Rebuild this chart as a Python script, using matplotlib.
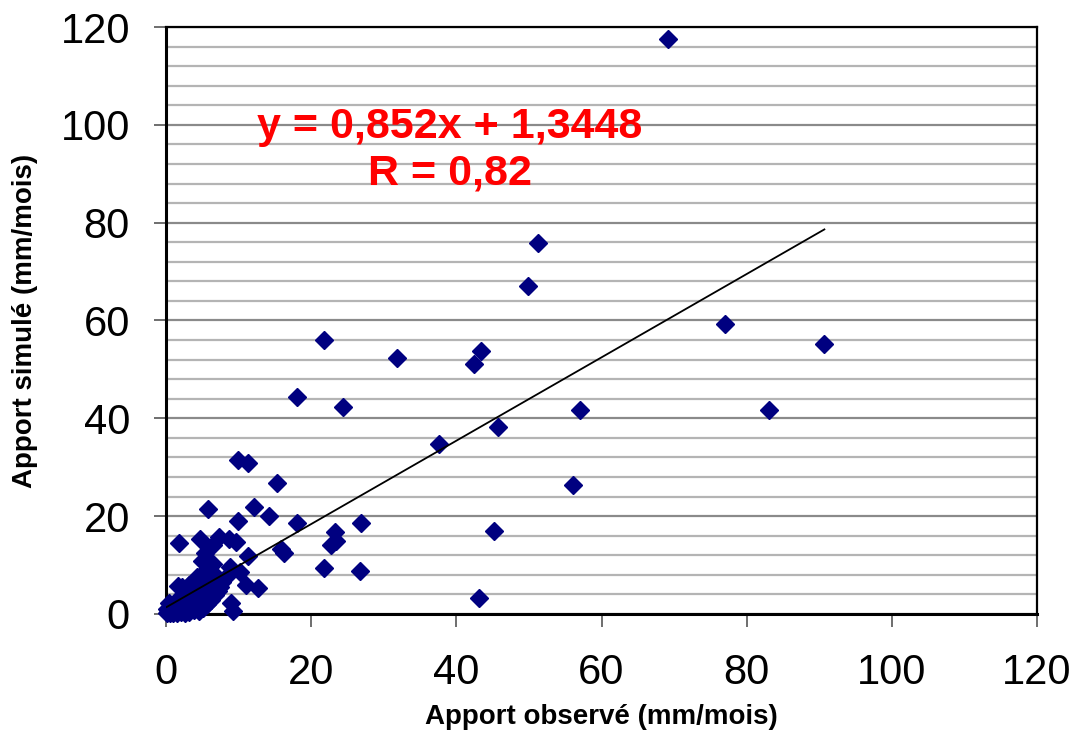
import numpy as np
import matplotlib.pyplot as plt
from matplotlib.ticker import MultipleLocator

obs = [69.2, 51.3, 49.9, 77.0, 90.7, 21.8, 31.8, 43.4, 42.4, 18.0,
       24.4, 57.0, 83.1, 37.6, 45.7, 9.9, 11.3, 15.3, 56.1, 5.8,
       12.1, 14.2, 18.0, 26.9, 9.9, 23.3, 45.2, 23.4, 22.7, 1.8,
       4.7, 8.7, 9.6, 15.8, 16.3, 7.3, 6.5, 5.4, 11.3, 21.8,
       26.7, 12.7, 11.0, 9.0, 9.2, 43.1, 1.7, 8.8, 10.2, 8.3,
       0.1, 0.2, 0.3, 0.5, 0.6, 0.8, 1.0, 1.0, 1.2, 1.4,
       1.5, 1.7, 1.8, 2.0, 2.1, 2.3, 2.4, 2.6, 2.7, 2.9,
       3.0, 3.2, 3.3, 3.5, 3.6, 3.8, 3.9, 4.1, 4.2, 4.4,
       4.5, 4.6, 4.8, 4.9, 5.0, 5.1, 5.2, 5.3, 5.5, 5.6,
       5.7, 5.8, 5.9, 6.0, 6.1, 6.2, 6.3, 6.4, 6.6, 6.7,
       6.9, 7.1, 7.3, 7.5, 7.7, 2.2, 3.0, 4.0, 1.6, 0.4,
       3.6, 4.3, 5.4, 6.5, 5.0, 3.2]
sim = [117.5, 75.8, 67.0, 59.3, 55.2, 56.0, 52.3, 53.8, 51.1, 44.4,
       42.3, 41.7, 41.7, 34.8, 38.2, 31.5, 30.9, 26.8, 26.4, 21.5,
       21.9, 20.0, 18.6, 18.6, 19.0, 16.8, 17.0, 14.9, 14.1, 14.5,
       15.3, 15.3, 14.7, 13.3, 12.5, 15.7, 14.1, 12.5, 11.9, 9.4,
       8.8, 5.3, 5.9, 2.2, 0.6, 3.3, 5.7, 9.6, 8.6, 7.6,
       0.2, 1.0, 0.5, 1.5, 0.3, 0.8, 0.2, 1.8, 0.6, 1.2,
       0.3, 2.0, 0.8, 0.4, 1.5, 2.6, 0.9, 0.3, 1.9, 3.2,
       1.2, 0.5, 2.4, 3.8, 1.6, 0.8, 2.9, 4.4, 1.9, 3.5,
       0.6, 5.2, 2.5, 4.1, 6.0, 1.3, 3.2, 7.0, 4.8, 2.0,
       8.2, 5.6, 3.6, 6.9, 9.0, 2.8, 4.5, 7.8, 5.3, 3.8,
       6.2, 4.6, 7.2, 5.5, 6.5, 5.5, 5.8, 6.5, 3.0, 2.2,
       5.2, 7.5, 8.8, 10.2, 10.8, 6.0]

slope, intercept = 0.852, 1.3448

plt.rcParams['font.family'] = ['Liberation Sans', 'DejaVu Sans']

fig = plt.figure(figsize=(10.76, 7.36), dpi=100)
ax = fig.add_axes([0.1543, 0.1658, 0.8095, 0.7975])

ax.set_xlim(0, 120)
ax.set_ylim(0, 120)
ax.yaxis.set_major_locator(MultipleLocator(20))
ax.yaxis.set_minor_locator(MultipleLocator(4))
ax.xaxis.set_major_locator(MultipleLocator(20))
ax.grid(axis='y', which='minor', color='#b4b4b4', lw=1.6)
ax.grid(axis='y', which='major', color='#8a8a8a', lw=1.6)
ax.set_axisbelow(True)

ax.plot(obs, sim, 'D', color='#000080', markersize=9, zorder=3, clip_on=False)

xs = np.array([min(obs), max(obs)])
ax.plot(xs, slope * xs + intercept, color='black', lw=1.3, zorder=4)

ax.text(39.1, 99.5, 'y = 0,852x + 1,3448', color='red', fontsize=31,
        fontweight='bold', ha='center', va='center')
ax.text(39.1, 90.1, 'R = 0,82', color='red', fontsize=31,
        fontweight='bold', ha='center', va='center')

for s in ax.spines.values():
    s.set_color('black')
    s.set_linewidth(1.6)
ax.spines['left'].set_linewidth(2.2)
ax.spines['bottom'].set_linewidth(2.2)

ax.tick_params(axis='both', which='major', labelsize=30, length=9, width=1.2,
               color='#555555', direction='out')
ax.tick_params(axis='both', which='minor', length=0)
ax.tick_params(axis='x', pad=19)
ax.tick_params(axis='y', pad=17)

ax.set_xlabel('Apport observé (mm/mois)', fontsize=20, fontweight='bold', labelpad=8)
ax.set_ylabel('Apport simulé (mm/mois)', fontsize=20, fontweight='bold', labelpad=16)

fig.savefig('out.png', dpi=100)
